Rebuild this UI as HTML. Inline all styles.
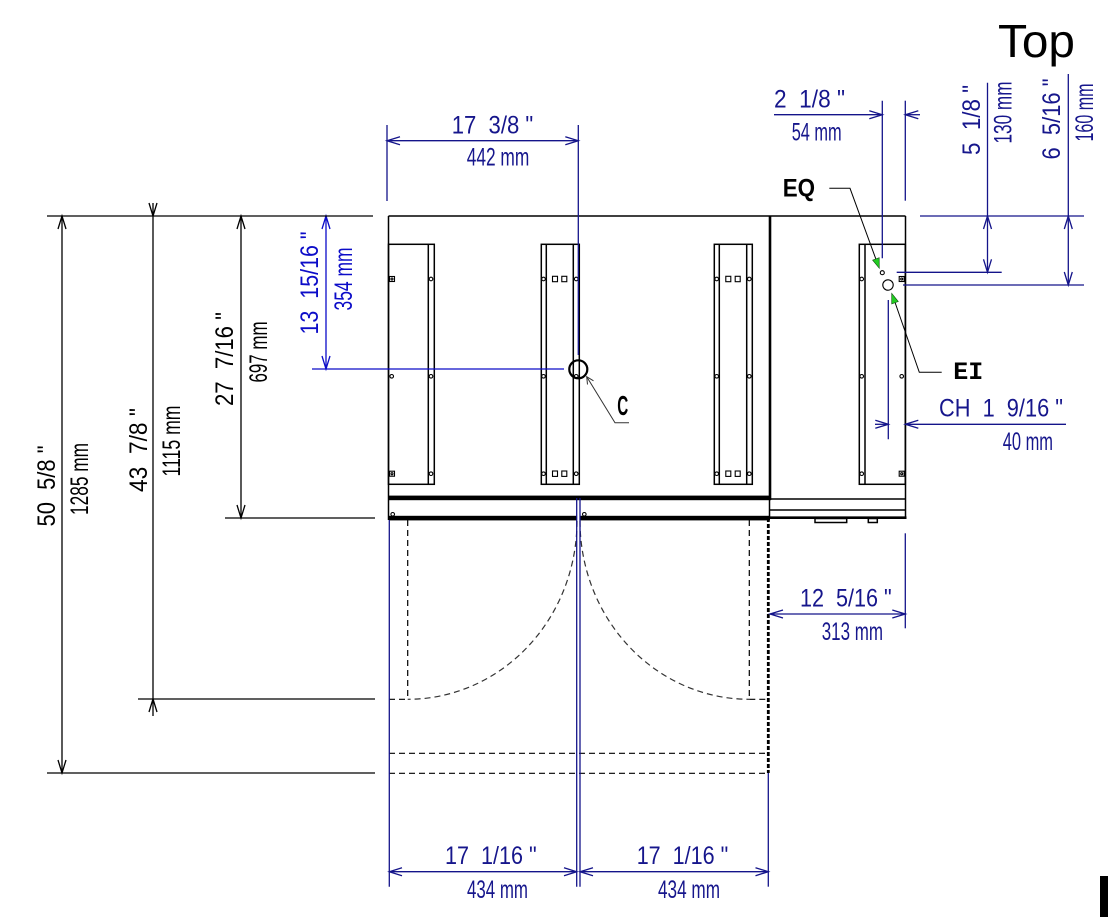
<!DOCTYPE html>
<html><head><meta charset="utf-8"><style>html,body{margin:0;padding:0;background:#fff;}svg{display:block}svg text{white-space:pre}</style></head>
<body>
<svg width="1112" height="917" viewBox="0 0 1112 917" xmlns="http://www.w3.org/2000/svg" xml:space="preserve" font-family="'Liberation Sans', sans-serif">
<rect width="1112" height="917" fill="#fff"/>

<!-- Top label -->
<text x="998" y="57" font-size="46" fill="#000" textLength="77" lengthAdjust="spacingAndGlyphs">Top</text>

<!-- ============ CABINET (black) ============ -->
<g stroke="#000" fill="none" stroke-width="1.5">
  <line x1="388.5" y1="216" x2="905.5" y2="216"/>
  <line x1="388.5" y1="216" x2="388.5" y2="520"/>
  <line x1="905.5" y1="216" x2="905.5" y2="519"/>
  <line x1="770" y1="216" x2="770" y2="500" stroke-width="2.6"/>
  <line x1="769.5" y1="499" x2="769.5" y2="518"/>
  <!-- panels -->
  <rect x="388.5" y="244.3" width="45.8" height="240"/>
  <line x1="428.3" y1="244.3" x2="428.3" y2="484.3"/>
  <rect x="541.3" y="244.3" width="38" height="240"/>
  <line x1="546.3" y1="244.3" x2="546.3" y2="484.3"/>
  <line x1="573.3" y1="244.3" x2="573.3" y2="484.3"/>
  <rect x="714.3" y="244.3" width="38" height="240"/>
  <line x1="719.3" y1="244.3" x2="719.3" y2="484.3"/>
  <line x1="746.7" y1="244.3" x2="746.7" y2="484.3"/>
  <rect x="859.3" y="244.3" width="46" height="240"/>
  <line x1="865" y1="244.3" x2="865" y2="484.3"/>
  <!-- right compartment bottom -->
  <line x1="770" y1="499" x2="905.5" y2="499"/>
  <line x1="770" y1="510" x2="905.5" y2="510"/>
  <line x1="770" y1="517.7" x2="906.5" y2="517.7" stroke-width="2.6"/>
  <rect x="815" y="518.5" width="31.7" height="4"/>
  <rect x="868.3" y="518.5" width="9" height="4"/>
</g>
<!-- thick bars -->
<rect x="388" y="495.6" width="383" height="4.6" fill="#000"/>
<rect x="389" y="515.8" width="188" height="4.6" fill="#000"/>
<rect x="580" y="515.8" width="190" height="4.6" fill="#000"/>

<!-- small dots -->
<g stroke="#000" fill="none" stroke-width="1.1">
  <circle cx="431" cy="279" r="1.8"/><circle cx="431" cy="376.3" r="1.8"/><circle cx="431" cy="473.7" r="1.8"/>
  <circle cx="391.7" cy="376.3" r="1.8"/>
  <rect x="389.5" y="276.5" width="5" height="5"/><circle cx="392" cy="279" r="1"/>
  <rect x="389.5" y="471.2" width="5" height="5"/><circle cx="392" cy="473.7" r="1"/>
  <circle cx="543.5" cy="279" r="1.8"/><circle cx="543.5" cy="376.3" r="1.8"/><circle cx="543.5" cy="473.7" r="1.8"/>
  <circle cx="576.2" cy="279" r="1.8"/><circle cx="576.2" cy="376.3" r="1.8"/><circle cx="576.2" cy="473.7" r="1.8"/>
  <rect x="552.5" y="276.3" width="5" height="5.4"/><rect x="561.8" y="276.3" width="5" height="5.4"/>
  <rect x="552.5" y="471" width="5" height="5.4"/><rect x="561.8" y="471" width="5" height="5.4"/>
  <circle cx="716.7" cy="279" r="1.8"/><circle cx="716.7" cy="376.3" r="1.8"/><circle cx="716.7" cy="473.7" r="1.8"/>
  <circle cx="749.3" cy="279" r="1.8"/><circle cx="749.3" cy="376.3" r="1.8"/><circle cx="749.3" cy="473.7" r="1.8"/>
  <rect x="725.8" y="276.3" width="5" height="5.4"/><rect x="735.2" y="276.3" width="5" height="5.4"/>
  <rect x="725.8" y="471" width="5" height="5.4"/><rect x="735.2" y="471" width="5" height="5.4"/>
  <circle cx="861.7" cy="279" r="1.8"/><circle cx="861.7" cy="376.3" r="1.8"/><circle cx="861.7" cy="473.7" r="1.8"/>
  <circle cx="901.7" cy="376.3" r="1.8"/>
  <rect x="899.2" y="276.5" width="5" height="5"/><circle cx="901.7" cy="279" r="1"/>
  <rect x="899.2" y="471.2" width="5" height="5"/><circle cx="901.7" cy="473.7" r="1"/>
  <circle cx="392.7" cy="514.3" r="1.8"/><circle cx="584.3" cy="514.3" r="1.8"/>
  <!-- EQ / EI holes -->
  <circle cx="882.3" cy="272.7" r="2"/>
  <circle cx="888" cy="285" r="5.2"/>
</g>

<!-- ============ DOORS (dashed) ============ -->
<g stroke="#000" fill="none" stroke-width="1.2" stroke-dasharray="6,4">
  <line x1="407.7" y1="520" x2="407.7" y2="699.3"/>
  <line x1="749.3" y1="520" x2="749.3" y2="699.3"/>
  <line x1="389" y1="699.3" x2="407.7" y2="699.3"/>
  <line x1="749.3" y1="699.3" x2="768" y2="699.3"/>
  <line x1="389" y1="753.3" x2="768" y2="753.3"/>
  <line x1="389" y1="773.3" x2="768" y2="773.3"/>
</g>
<g stroke="#333" fill="none" stroke-width="1.2" stroke-dasharray="6,4">
  <path d="M577 521 A169.3 178.3 0 0 1 407.7 699.3"/>
  <path d="M580 521 A169.3 178.3 0 0 0 749.3 699.3"/>
</g>
<line x1="768.3" y1="518" x2="768.3" y2="773" stroke="#000" stroke-width="2.8" stroke-dasharray="4,2"/>

<!-- ============ NAVY DIMENSION GEOMETRY ============ -->
<g stroke="#14148a" fill="none" stroke-width="1.3">
  <line x1="389.3" y1="520" x2="389.3" y2="886.7"/>
  <line x1="576.7" y1="498" x2="576.7" y2="886.7"/>
  <line x1="580" y1="498" x2="580" y2="886.7"/>
  <line x1="768.3" y1="773" x2="768.3" y2="886.7"/>
  <line x1="389.3" y1="871.7" x2="576.7" y2="871.7"/>
  <path d="M402 867.7 L389.3 871.7 L402 875.7"/>
  <path d="M564 867.7 L576.7 871.7 L564 875.7"/>
  <line x1="580" y1="871.7" x2="768.3" y2="871.7"/>
  <path d="M593 867.7 L580 871.7 L593 875.7"/>
  <path d="M755.5 867.7 L768.3 871.7 L755.5 875.7"/>
  <line x1="387" y1="125" x2="387" y2="201"/>
  <line x1="578.3" y1="125" x2="578.3" y2="355"/>
  <line x1="387" y1="140.7" x2="578.3" y2="140.7"/>
  <path d="M400 136.7 L387 140.7 L400 144.7"/>
  <path d="M565.3 136.7 L578.3 140.7 L565.3 144.7"/>
  <line x1="882.3" y1="100.7" x2="882.3" y2="258.3"/>
  <line x1="905.3" y1="100.7" x2="905.3" y2="200.7"/>
  <line x1="774" y1="114.7" x2="882.3" y2="114.7"/>
  <path d="M869.3 110.7 L882.3 114.7 L869.3 118.7"/>
  <line x1="905.3" y1="114.7" x2="920" y2="114.7"/>
  <path d="M918.3 110.7 L905.3 114.7 L918.3 118.7"/>
  <line x1="920" y1="216" x2="1084" y2="216"/>
  <line x1="896.7" y1="272.3" x2="1001.7" y2="272.3"/>
  <line x1="903" y1="285" x2="1084" y2="285"/>
  <line x1="987.5" y1="82.7" x2="987.5" y2="272.3"/>
  <path d="M983.5 229 L987.5 216 L991.5 229"/>
  <path d="M983.5 259.3 L987.5 272.3 L991.5 259.3"/>
  <line x1="1068.3" y1="74" x2="1068.3" y2="285"/>
  <path d="M1064.3 229 L1068.3 216 L1072.3 229"/>
  <path d="M1064.3 272 L1068.3 285 L1072.3 272"/>
  <line x1="888.3" y1="300" x2="888.3" y2="439.3"/>
  <line x1="875" y1="424.3" x2="888.3" y2="424.3"/>
  <path d="M875.3 420.3 L888.3 424.3 L875.3 428.3"/>
  <line x1="905.3" y1="424.3" x2="1066" y2="424.3"/>
  <path d="M918.3 420.3 L905.3 424.3 L918.3 428.3"/>
  <line x1="905.3" y1="533.3" x2="905.3" y2="628.3"/>
  <line x1="770" y1="614" x2="905.3" y2="614"/>
  <path d="M783 610 L770 614 L783 618"/>
  <path d="M892.3 610 L905.3 614 L892.3 618"/>
</g>

<g stroke="#0c0cc8" fill="none" stroke-width="1.3">
  <line x1="312" y1="369" x2="564" y2="369"/>
  <line x1="326" y1="216" x2="326" y2="369"/>
  <path d="M322 229 L326 216 L330 229"/>
  <path d="M322 356 L326 369 L330 356"/>
</g>

<g stroke="#000" fill="none" stroke-width="1.3">
  <line x1="47" y1="216" x2="373" y2="216"/>
  <line x1="225" y1="518" x2="375" y2="518"/>
  <line x1="138" y1="699" x2="375" y2="699"/>
  <line x1="47" y1="773" x2="375" y2="773"/>
  <line x1="62" y1="216" x2="62" y2="773"/>
  <path d="M58 229 L62 216 L66 229"/>
  <path d="M58 760 L62 773 L66 760"/>
  <line x1="153" y1="203" x2="153" y2="716"/>
  <path d="M149 203 L153 216 L157 203"/>
  <path d="M149 712 L153 699 L157 712"/>
  <line x1="241" y1="216" x2="241" y2="518"/>
  <path d="M237 229 L241 216 L245 229"/>
  <path d="M237 505 L241 518 L245 505"/>
</g>

<circle cx="578.3" cy="369.3" r="9" stroke="#000" stroke-width="2.2" fill="none"/>
<g stroke="#333" fill="none" stroke-width="1">
  <polyline points="586.7,376.7 615,422.7 629,422.7"/>
  <path d="M587.5 384.5 L586.7 376.7 L593.5 380.8"/>
</g>

<g stroke="#000" fill="none" stroke-width="1">
  <polyline points="829.3,188.3 850,188.3 877.5,263.5"/>
  <polyline points="941.7,372.3 919.3,372.3 893.5,298"/>
</g>
<polygon points="879.3,268.3 879.2,257.7 872.6,260.1" fill="#22cc22" stroke="#105010" stroke-width="0.6"/>
<polygon points="891.7,293.3 898.3,301.5 891.7,303.9" fill="#22cc22" stroke="#105010" stroke-width="0.6"/>

<!-- ============ TEXT ============ -->
<g font-size="25" fill="#16168c">
  <text x="451.7" y="133.5" textLength="81.6" lengthAdjust="spacingAndGlyphs">17  3/8 "</text>
  <text x="466.7" y="165.7" textLength="62.6" lengthAdjust="spacingAndGlyphs">442 mm</text>
  <text x="774" y="107.3" textLength="71" lengthAdjust="spacingAndGlyphs">2  1/8 "</text>
  <text x="791.7" y="140.7" textLength="50" lengthAdjust="spacingAndGlyphs">54 mm</text>
  <text x="939" y="416.7" textLength="124" lengthAdjust="spacingAndGlyphs">CH  1  9/16 "</text>
  <text x="1002.7" y="450" textLength="50.3" lengthAdjust="spacingAndGlyphs">40 mm</text>
  <text x="800" y="606.7" textLength="91.7" lengthAdjust="spacingAndGlyphs">12  5/16 "</text>
  <text x="821.7" y="640" textLength="61.3" lengthAdjust="spacingAndGlyphs">313 mm</text>
  <text x="445" y="864" textLength="91.7" lengthAdjust="spacingAndGlyphs">17  1/16 "</text>
  <text x="467" y="898" textLength="61" lengthAdjust="spacingAndGlyphs">434 mm</text>
  <text x="636.7" y="864" textLength="91.6" lengthAdjust="spacingAndGlyphs">17  1/16 "</text>
  <text x="658" y="898" textLength="62" lengthAdjust="spacingAndGlyphs">434 mm</text>
  <text transform="translate(980,120) rotate(-90)" text-anchor="middle" textLength="70" lengthAdjust="spacingAndGlyphs">5  1/8 "</text>
  <text transform="translate(1011.7,112.5) rotate(-90)" text-anchor="middle" textLength="62" lengthAdjust="spacingAndGlyphs">130 mm</text>
  <text transform="translate(1060,119) rotate(-90)" text-anchor="middle" textLength="81" lengthAdjust="spacingAndGlyphs">6  5/16 "</text>
  <text transform="translate(1093,112.5) rotate(-90)" text-anchor="middle" textLength="58" lengthAdjust="spacingAndGlyphs">160 mm</text>
</g>
<g font-size="25" fill="#0c0cc8">
  <text transform="translate(318,283) rotate(-90)" text-anchor="middle" textLength="103" lengthAdjust="spacingAndGlyphs">13  15/16 "</text>
  <text transform="translate(352,279) rotate(-90)" text-anchor="middle" textLength="63" lengthAdjust="spacingAndGlyphs">354 mm</text>
</g>
<g font-size="25" fill="#000">
  <text transform="translate(55,486) rotate(-90)" text-anchor="middle" textLength="81" lengthAdjust="spacingAndGlyphs">50  5/8 "</text>
  <text transform="translate(88,479) rotate(-90)" text-anchor="middle" textLength="72" lengthAdjust="spacingAndGlyphs">1285 mm</text>
  <text transform="translate(147,450) rotate(-90)" text-anchor="middle" textLength="84" lengthAdjust="spacingAndGlyphs">43  7/8 "</text>
  <text transform="translate(180,441) rotate(-90)" text-anchor="middle" textLength="71" lengthAdjust="spacingAndGlyphs">1115 mm</text>
  <text transform="translate(233,359) rotate(-90)" text-anchor="middle" textLength="94" lengthAdjust="spacingAndGlyphs">27  7/16 "</text>
  <text transform="translate(267,352) rotate(-90)" text-anchor="middle" textLength="61" lengthAdjust="spacingAndGlyphs">697 mm</text>
</g>
<g font-weight="bold" fill="#000">
  <text x="617.3" y="415" font-size="28" textLength="11" lengthAdjust="spacingAndGlyphs">C</text>
  <text x="782.7" y="196.7" font-size="25" textLength="32.3" lengthAdjust="spacingAndGlyphs">EQ</text>
  <text x="953.3" y="379" font-size="25" textLength="30" lengthAdjust="spacingAndGlyphs" font-family="'Liberation Mono', monospace">EI</text>
</g>

<rect x="1100" y="876" width="8" height="41" fill="#000"/>
</svg>
</body></html>
